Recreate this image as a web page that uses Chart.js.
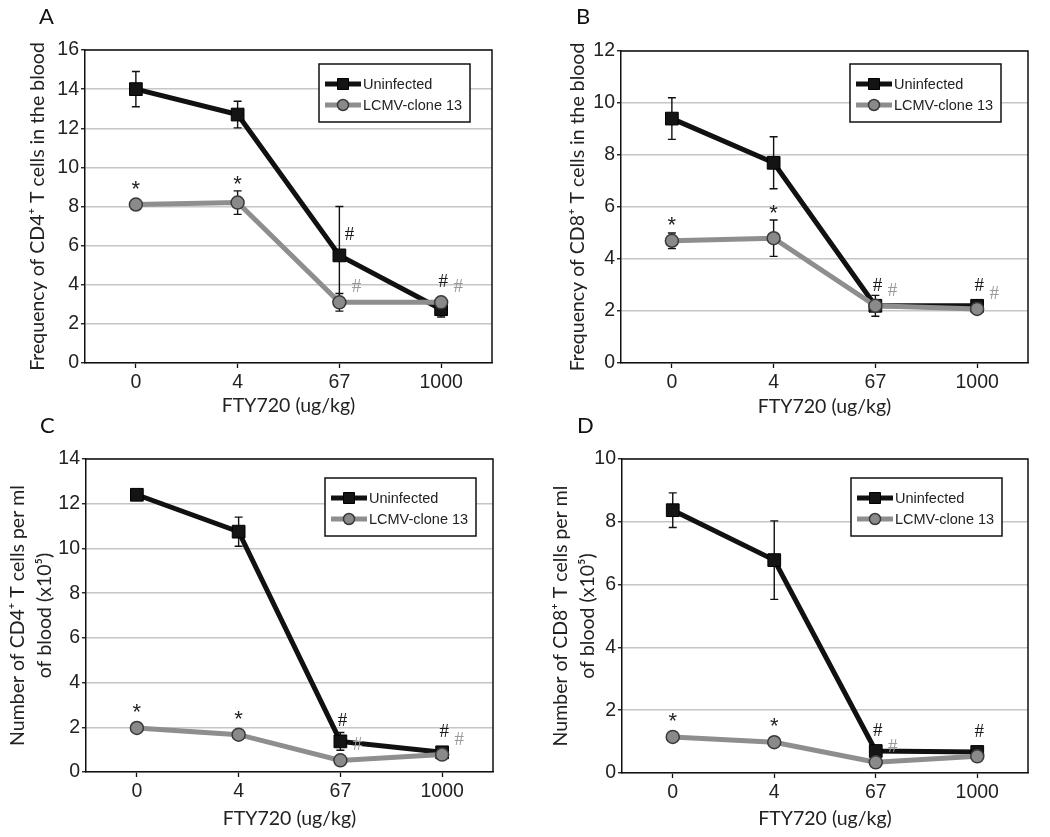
<!DOCTYPE html>
<html><head><meta charset="utf-8">
<script src="https://cdn.jsdelivr.net/npm/chart.js@4.4.0/dist/chart.umd.min.js"></script>
<style>
body{margin:0;background:#fff;width:1050px;height:837px;position:relative;overflow:hidden}
.panel{position:absolute;width:525px;height:420px}
.panel canvas{position:absolute;left:0;top:0}
.letter{position:absolute;font-family:Lato,"Open Sans",sans-serif;font-size:22px;color:#111;line-height:1}
</style></head><body>
<div class="panel" style="left:0;top:0"><canvas id="cA" width="525" height="420"></canvas></div>
<div class="panel" style="left:525px;top:0"><canvas id="cB" width="525" height="420"></canvas></div>
<div class="panel" style="left:0;top:420px"><canvas id="cC" width="525" height="420"></canvas></div>
<div class="panel" style="left:525px;top:420px"><canvas id="cD" width="525" height="420"></canvas></div>
<div class="letter" style="left:39px;top:5px">A</div>
<div class="letter" style="left:576px;top:5px">B</div>
<div class="letter" style="left:40px;top:414px">C</div>
<div class="letter" style="left:577px;top:414px">D</div>
<script>
// ---------- data ----------
const categories = ['0', '4', '67', '1000'];
const seriesNames = ['Uninfected', 'LCMV-clone 13'];
const xTitle = 'FTY720 (ug/kg)';

// Panel A: frequency of CD4+ T cells
const uninfA = [14.0, 12.7, 5.5, 2.75];
const uninfErrA = [0.9, 0.68, 2.5, 0.4];
const lcmvA = [8.1, 8.2, 3.1, 3.1];
const lcmvErrA = [0.15, 0.6, 0.45, 0.2];
const yMaxA = 16;
const yTitleA = 'Frequency of CD4\u207A T cells in the blood';

// Panel B: frequency of CD8+ T cells
const uninfB = [9.4, 7.7, 2.2, 2.2];
const uninfErrB = [0.8, 1.0, 0.15, 0.1];
const lcmvB = [4.7, 4.8, 2.2, 2.08];
const lcmvErrB = [0.3, 0.7, 0.4, 0.15];
const yMaxB = 12;
const yTitleB = 'Frequency of CD8\u207A T cells in the blood';

// Panel C: number of CD4+ T cells per ml (x10^5)
const uninfC = [12.4, 10.75, 1.37, 0.88];
const uninfErrC = [0.15, 0.65, 0.4, 0.1];
const lcmvC = [1.97, 1.67, 0.52, 0.78];
const lcmvErrC = [0.15, 0.1, 0.1, 0.1];
const yMaxC = 14;
const yTitleC = ['Number of CD4\u207A T cells per ml', 'of blood (x10\u2075)'];

// Panel D: number of CD8+ T cells per ml (x10^5)
const uninfD = [8.37, 6.78, 0.7, 0.67];
const uninfErrD = [0.55, 1.25, 0.1, 0.1];
const lcmvD = [1.15, 0.98, 0.34, 0.53];
const lcmvErrD = [0.1, 0.08, 0.1, 0.08];
const yMaxD = 10;
const yTitleD = ['Number of CD8\u207A T cells per ml', 'of blood (x10\u2075)'];

const yStep = 2;

// significance marks
const starsLCMV = ['*', '*', '', ''];
const hashUninf = ['', '', '#', '#'];
const hashLCMV = ['', '', '#', '#'];
const hashLCMVD = ['', '', '#', ''];

// ---------- styling / drawing ----------
const TICK_FONT = {family: '"Liberation Sans", Arial, sans-serif', size: 19.5};
const TITLE_FONT = {family: 'Lato, "Open Sans", sans-serif', size: 19.5};

function makeChart(id, cfg) {
  const uninfColor = '#111111', lcmvColor = '#8e8e8e';

  const errorBars = {
    id: 'errorBars',
    beforeDatasetsDraw(chart) {
      const ctx = chart.ctx, ys = chart.scales.y;
      ctx.save();
      ctx.strokeStyle = '#111';
      ctx.lineWidth = 1.4;
      chart.data.datasets.forEach((ds, i) => {
        const meta = chart.getDatasetMeta(i);
        ds.errors.forEach((e, j) => {
          const x = meta.data[j].x;
          const t = ys.getPixelForValue(ds.data[j] + e);
          const b = ys.getPixelForValue(ds.data[j] - e);
          ctx.beginPath();
          ctx.moveTo(x, t); ctx.lineTo(x, b);
          ctx.moveTo(x - 4, t); ctx.lineTo(x + 4, t);
          ctx.moveTo(x - 4, b); ctx.lineTo(x + 4, b);
          ctx.stroke();
        });
      });
      ctx.restore();
    }
  };

  const frame = {
    id: 'frame',
    beforeDatasetsDraw(chart) {
      const {ctx, chartArea: a} = chart;
      ctx.save();
      ctx.strokeStyle = '#111';
      ctx.lineWidth = 1.5;
      ctx.beginPath();
      ctx.moveTo(a.left, a.top); ctx.lineTo(a.right, a.top); ctx.lineTo(a.right, a.bottom);
      ctx.stroke();
      ctx.restore();
    }
  };

  const marks = {
    id: 'marks',
    afterDatasetsDraw(chart) {
      const ctx = chart.ctx, ys = chart.scales.y;
      const mu = chart.getDatasetMeta(0), ml = chart.getDatasetMeta(1);
      const du = chart.data.datasets[0], dl = chart.data.datasets[1];
      ctx.save();
      ctx.textAlign = 'center';
      ctx.textBaseline = 'middle';
      categories.forEach((c, j) => {
        const x = ml.data[j].x;
        const yl = ml.data[j].y, yu = mu.data[j].y;
        if (cfg.stars[j]) {
          const errTop = ys.getPixelForValue(dl.data[j] + dl.errors[j]);
          const y = Math.min(yl - 20, errTop - 11);
          ctx.fillStyle = '#222';
          ctx.font = '22px "Liberation Sans", Arial, sans-serif';
          ctx.fillText(cfg.stars[j], x, y + 5);
        }
        ctx.font = '19px "Liberation Serif", serif';
        if (cfg.hashU[j]) {
          const hy = Math.min(yl, yu) - 20;
          const uTop = ys.getPixelForValue(du.data[j] + du.errors[j]);
          const dx = uTop < hy + 6 ? 10 : 2;
          ctx.fillStyle = '#1a1a1a';
          ctx.fillText(cfg.hashU[j], x + dx, hy);
        }
        if (cfg.hashL[j]) {
          ctx.fillStyle = '#9a9a9a';
          ctx.fillText(cfg.hashL[j], x + 17, yl - 15);
        }
      });
      ctx.restore();
    }
  };

  const boxLegend = {
    id: 'boxLegend',
    afterDraw(chart) {
      const {ctx, chartArea: a} = chart;
      const w = 151, h = 58;
      const left = a.right - cfg.legRight - w, top = a.top + cfg.legTop;
      ctx.save();
      ctx.fillStyle = '#fff';
      ctx.fillRect(left, top, w, h);
      ctx.strokeStyle = '#111';
      ctx.lineWidth = 1.5;
      ctx.strokeRect(left, top, w, h);
      chart.data.datasets.forEach((ds, i) => {
        const y = top + 20 + i * 21;
        ctx.strokeStyle = ds.borderColor;
        ctx.lineWidth = 5;
        ctx.beginPath();
        ctx.moveTo(left + 6, y); ctx.lineTo(left + 42, y);
        ctx.stroke();
        const cx = left + 24;
        ctx.fillStyle = ds.pointBackgroundColor;
        ctx.strokeStyle = ds.pointBorderColor;
        ctx.lineWidth = ds.pointBorderWidth;
        ctx.beginPath();
        if (ds.pointStyle === 'rect') ctx.rect(cx - 5.5, y - 5.5, 11, 11);
        else ctx.arc(cx, y, 5.5, 0, Math.PI * 2);
        ctx.fill(); ctx.stroke();
        ctx.fillStyle = '#222';
        ctx.font = '14.5px "Liberation Sans", Arial, sans-serif';
        ctx.textAlign = 'left';
        ctx.textBaseline = 'middle';
        ctx.fillText(ds.label, left + 44, y + 1);
      });
      ctx.restore();
    }
  };

  return new Chart(document.getElementById(id), {
    type: 'line',
    data: {
      labels: categories,
      datasets: [
        {
          label: seriesNames[0], data: cfg.uninf, errors: cfg.uninfErr,
          borderColor: uninfColor, borderWidth: 5, pointStyle: 'rect',
          pointRadius: 9, pointBackgroundColor: '#141414', pointBorderColor: '#000',
          pointBorderWidth: 1, order: 1, tension: 0
        },
        {
          label: seriesNames[1], data: cfg.lcmv, errors: cfg.lcmvErr,
          borderColor: lcmvColor, borderWidth: 5, pointStyle: 'circle',
          pointRadius: 6.5, pointBackgroundColor: '#8a8a8a', pointBorderColor: '#3a3a3a',
          pointBorderWidth: 1.5, order: 0, tension: 0
        }
      ]
    },
    options: {
      responsive: false,
      animation: false,
      devicePixelRatio: 1,
      layout: {padding: {top: cfg.top, right: cfg.right, bottom: 0, left: 0}},
      plugins: {legend: {display: false}, tooltip: {enabled: false}},
      scales: {
        x: {
          type: 'category', offset: true,
          grid: {drawOnChartArea: false, offset: false, tickLength: 5, tickColor: '#111', tickWidth: 1.3},
          border: {color: '#111', width: 1.5},
          ticks: {font: TICK_FONT, color: '#222', padding: 3},
          title: {display: true, text: xTitle, font: TITLE_FONT, color: '#222', padding: {top: 0, bottom: cfg.xTitlePad}},
          afterFit: s => { s.height = cfg.xh; }
        },
        y: {
          min: 0, max: cfg.yMax,
          grid: {color: '#c6c6c6', lineWidth: 1.5, tickLength: 4, tickColor: '#111', tickWidth: 1.3},
          border: {color: '#111', width: 1.5},
          ticks: {stepSize: yStep, font: TICK_FONT, color: '#222', padding: 2},
          title: {display: true, text: cfg.yTitle, font: {...TITLE_FONT, lineHeight: cfg.yLH}, color: '#222', padding: {top: cfg.yTitlePad, bottom: 0}},
          afterFit: s => { s.width = cfg.yw; }
        }
      }
    },
    plugins: [frame, errorBars, marks, boxLegend]
  });
}

makeChart('cA', {uninf: uninfA, uninfErr: uninfErrA, lcmv: lcmvA, lcmvErr: lcmvErrA, yMax: yMaxA, yTitle: yTitleA,
  stars: starsLCMV, hashU: hashUninf, hashL: hashLCMV,
  top: 50, right: 33, yw: 85, xh: 57, xTitlePad: 3, yTitlePad: 26, yLH: 1.2, legRight: 22, legTop: 14});
makeChart('cB', {uninf: uninfB, uninfErr: uninfErrB, lcmv: lcmvB, lcmvErr: lcmvErrB, yMax: yMaxB, yTitle: yTitleB,
  stars: starsLCMV, hashU: hashUninf, hashL: hashLCMV,
  top: 51, right: 22, yw: 96, xh: 57, xTitlePad: 2, yTitlePad: 41, yLH: 1.2, legRight: 27, legTop: 13});
makeChart('cC', {uninf: uninfC, uninfErr: uninfErrC, lcmv: lcmvC, lcmvErr: lcmvErrC, yMax: yMaxC, yTitle: yTitleC,
  stars: starsLCMV, hashU: hashUninf, hashL: hashLCMV,
  top: 39, right: 32, yw: 86, xh: 68, xTitlePad: 10, yTitlePad: 5, yLH: 1.35, legRight: 17, legTop: 19});
makeChart('cD', {uninf: uninfD, uninfErr: uninfErrD, lcmv: lcmvD, lcmvErr: lcmvErrD, yMax: yMaxD, yTitle: yTitleD,
  stars: starsLCMV, hashU: hashUninf, hashL: hashLCMVD,
  top: 39, right: 22, yw: 97, xh: 67, xTitlePad: 10, yTitlePad: 23, yLH: 1.35, legRight: 26, legTop: 19});
</script>
</body></html>
